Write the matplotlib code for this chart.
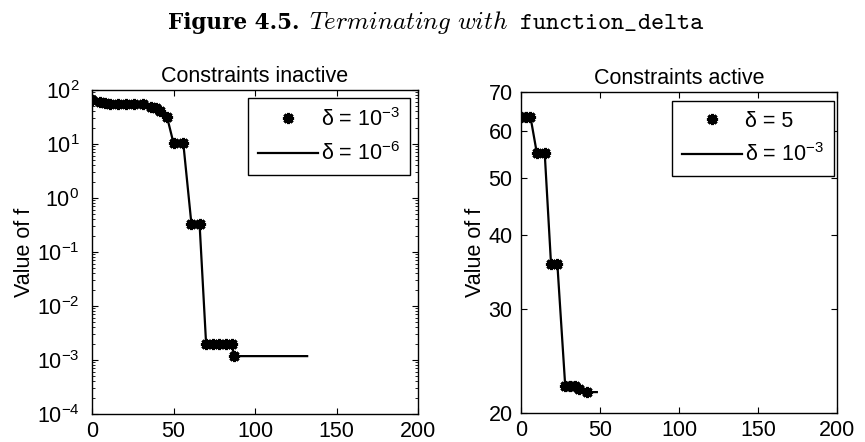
import matplotlib
matplotlib.use("Agg")
import matplotlib.pyplot as plt
import matplotlib.ticker as mticker

plt.rcParams['font.family'] = ['Liberation Sans', 'DejaVu Sans']
plt.rcParams['mathtext.fontset'] = 'custom'
plt.rcParams['mathtext.rm'] = 'Liberation Sans'
plt.rcParams['mathtext.it'] = 'Liberation Sans:italic'
plt.rcParams['mathtext.bf'] = 'Liberation Sans:bold'

# Left panel: constraints inactive
left_iter_coarse = [0, 5, 8, 11, 16, 21, 26, 31, 36, 39, 42, 46, 50, 56, 61, 66, 70, 74, 78, 82, 86, 87]
left_f_coarse = [65, 60, 57, 55, 55, 55, 55, 55, 48, 46, 41, 32, 10.4, 10.4, 0.33, 0.33,
                 0.002, 0.002, 0.002, 0.002, 0.002, 0.00118]
left_iter_fine = left_iter_coarse + [132]
left_f_fine = left_f_coarse + [0.00118]

# Right panel: constraints active
right_iter_coarse = [0, 3, 6, 10, 15, 19, 23, 28, 31, 34, 37, 42]
right_f_coarse = [63.5, 63.5, 63.5, 55.2, 55.2, 35.8, 35.8, 22.2, 22.2, 22.2, 22.0, 21.7]
right_iter_fine = right_iter_coarse + [48]
right_f_fine = right_f_coarse + [21.7]

left_labels = [r'δ = 10$^{-3}$', r'δ = 10$^{-6}$']
right_labels = [r'δ = 5', r'δ = 10$^{-3}$']
x_ticks = [0, 50, 100, 150, 200]
right_yticks = [20, 30, 40, 50, 60, 70]

FS = 15.5
W, H = 865, 442
fig = plt.figure(figsize=(W / 100, H / 100), dpi=100)

ax1 = fig.add_axes([92 / W, 1 - 414 / H, 326 / W, 324 / H])
ax2 = fig.add_axes([521 / W, 1 - 413 / H, 316 / W, 321 / H])

mk = dict(marker=(8, 2, 0), markersize=8, markeredgewidth=2.2, color='black', linestyle='none')
ln = dict(color='black', linewidth=1.6)

legend_anchor = {ax1: (410, 98), ax2: (834, 101)}

for ax, xc, yc, xf, yf, labels in [
        (ax1, left_iter_coarse, left_f_coarse, left_iter_fine, left_f_fine, left_labels),
        (ax2, right_iter_coarse, right_f_coarse, right_iter_fine, right_f_fine, right_labels)]:
    h1, = ax.plot(xc, yc, **mk, label=labels[0])
    h2, = ax.plot(xf, yf, **ln, label=labels[1])
    ax.set_yscale('log')
    ax.set_xlim(0, 200)
    ax.set_xticks(x_ticks)
    ax.tick_params(which='both', direction='in', top=True, right=True, labelsize=FS)
    ax.tick_params(axis='x', pad=5)
    ax.tick_params(which='major', length=4)
    ax.tick_params(which='minor', length=2)
    for s in ax.spines.values():
        s.set_linewidth(1.0)
    ax_px, ay_px = legend_anchor[ax]
    leg = ax.legend(handles=[h1, h2], loc='upper right', fontsize=FS, fancybox=False,
                    edgecolor='black', framealpha=1, handlelength=2.8, handletextpad=0.15,
                    borderpad=0.45, labelspacing=0.55, borderaxespad=0,
                    bbox_to_anchor=(ax_px / W, 1 - ay_px / H), bbox_transform=fig.transFigure)
    leg.get_frame().set_linewidth(1.0)

ax1.set_ylim(1e-4, 1e2)
ax1.yaxis.set_major_locator(mticker.LogLocator(base=10, numticks=10))
ax1.yaxis.set_minor_locator(mticker.LogLocator(base=10, subs=range(2, 10), numticks=10))
ax1.yaxis.set_minor_formatter(mticker.NullFormatter())
ax1.tick_params(axis='y', pad=9)
ax1.set_title('Constraints inactive', fontsize=FS, pad=6)
ax1.set_ylabel('Value of f', fontsize=FS, labelpad=1)

ax2.set_ylim(20, 70)
ax2.yaxis.set_major_locator(mticker.FixedLocator(right_yticks))
ax2.yaxis.set_major_formatter(mticker.FixedFormatter([str(v) for v in right_yticks]))
ax2.yaxis.set_minor_locator(mticker.NullLocator())
ax2.tick_params(axis='y', pad=6)
ax2.set_title('Constraints active', fontsize=FS, pad=6)
ax2.set_ylabel('Value of f', fontsize=FS, labelpad=2)

# Suptitle assembled from three pieces
TFS = 18
pieces = [
    (r'Figure 4.5.', dict(family='DejaVu Serif', weight='bold', fontsize=TFS - 2.5)),
    (r'$\mathit{Terminating\ with}$', dict(fontsize=TFS, math_fontfamily='cm')),
    (r'$\mathtt{function\_delta}$', dict(fontsize=TFS, math_fontfamily='cm')),
]
renderer = fig.canvas.get_renderer()
gap = 10
texts = []
widths = []
for s, kw in pieces:
    t = fig.text(0, 1 - 29 / H, s, ha='left', va='baseline', **kw)
    bb = t.get_window_extent(renderer=renderer)
    texts.append(t)
    widths.append(bb.width)
total = sum(widths) + gap * (len(widths) - 1)
x = 436 - total / 2
for t, w in zip(texts, widths):
    t.set_x(x / W)
    x += w + gap

fig.savefig('out.png', dpi=100)
